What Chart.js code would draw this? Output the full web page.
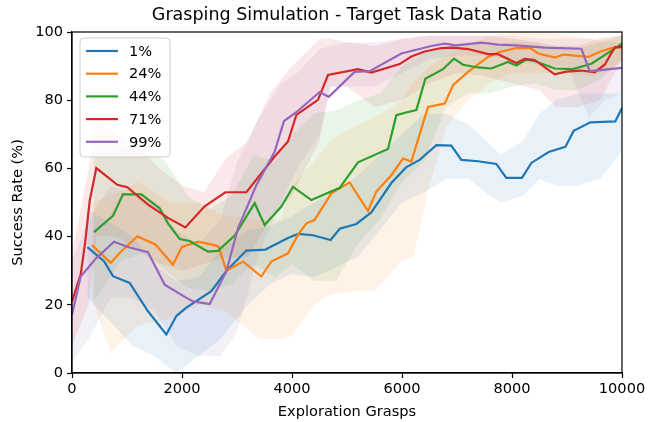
<!DOCTYPE html>
<html>
<head>
<meta charset="utf-8">
<script src="https://cdn.jsdelivr.net/npm/chart.js@4.4.1/dist/chart.umd.min.js"></script>
<style>
  html, body { margin: 0; padding: 0; background: #fff; }
</style>
</head>
<body>
<canvas id="chart" width="657" height="422"></canvas>
<script>
// series labels and colours (matplotlib tab10)
const labels = ['1%', '24%', '44%', '71%', '99%'];
const colors = ['#1f77b4', '#ff7f0e', '#2ca02c', '#d62728', '#9467bd'];
const fills = ['rgba(31,119,180,0.1)', 'rgba(255,127,14,0.1)', 'rgba(44,160,44,0.1)', 'rgba(214,39,40,0.1)', 'rgba(148,103,189,0.1)'];

const xTicks = [0, 2000, 4000, 6000, 8000, 10000];
const yTicks = [0, 20, 40, 60, 80, 100];

// mean curves
const x1 = [279, 582, 745, 1048, 1382, 1715, 1897, 2073, 2533, 2806, 3170, 3515, 3927, 4109, 4382, 4703, 4867, 5170, 5442, 5806, 6073, 6321, 6624, 6897, 7079, 7382, 7715, 7897, 8182, 8352, 8667, 8970, 9121, 9424, 9879, 10000];
const y1 = [36.9, 32.8, 28.4, 26.4, 18.1, 11.3, 16.7, 19.1, 24, 29.9, 35.9, 36.2, 39.6, 40.8, 40.4, 39, 42.3, 43.7, 47.1, 55.7, 60.3, 62.5, 66.8, 66.7, 62.5, 62.1, 61.3, 57.2, 57.2, 61.6, 64.8, 66.3, 71, 73.5, 73.8, 77.7];

const x24 = [364, 703, 897, 1188, 1515, 1836, 2000, 2291, 2594, 2667, 2806, 3109, 3442, 3624, 3927, 4109, 4261, 4412, 4715, 5048, 5382, 5533, 5806, 6018, 6170, 6473, 6776, 6927, 7200, 7564, 7745, 8073, 8327, 8479, 8782, 8933, 9176, 9388, 9600, 9812, 10000];
const y24 = [37.5, 32.3, 35.7, 40.1, 37.7, 31.8, 37, 38.5, 37.5, 37, 30, 32.7, 28.3, 32.7, 35.1, 40.5, 43.9, 44.9, 52.7, 55.9, 47.5, 53.2, 58, 62.9, 62, 78, 79, 84.4, 88.3, 92.7, 94, 95.3, 95.3, 93.7, 92.5, 93.4, 93, 92.7, 94.2, 95.3, 95.5];

const x44 = [400, 745, 927, 1261, 1594, 1745, 1958, 2139, 2473, 2655, 2958, 3321, 3503, 3806, 4018, 4352, 4867, 5200, 5745, 5897, 6073, 6261, 6424, 6745, 6945, 7109, 7382, 7624, 7927, 8079, 8261, 8412, 8776, 9109, 9442, 9867, 10000];
const y44 = [41.3, 46.1, 52.4, 52.4, 48.3, 43.9, 39.3, 38.7, 35.6, 35.8, 40.3, 49.8, 43.4, 48.8, 54.6, 50.7, 54.3, 61.8, 65.7, 75.6, 76.4, 77.1, 86.3, 89.1, 92.2, 90.4, 89.6, 89.3, 91.2, 90.2, 91.9, 91.5, 89.3, 89.1, 90.7, 95.1, 96.6];

const x71 = [0, 158, 242, 321, 442, 824, 1006, 1382, 1745, 2061, 2412, 2788, 3170, 3685, 3927, 4079, 4473, 4655, 5200, 5442, 5958, 6170, 6412, 6715, 6927, 7200, 7564, 7745, 8079, 8230, 8412, 8776, 8988, 9261, 9503, 9685, 9867, 10000];
const y71 = [21, 28.9, 38.6, 50.4, 60.1, 55.2, 54.5, 49.4, 45.5, 42.7, 48.9, 53, 53, 63.5, 67.9, 75.7, 80.1, 87.4, 89.1, 88.1, 90.6, 92.8, 94.3, 95.3, 95.4, 95, 93.5, 93.5, 90.9, 92.1, 91.8, 87.6, 88.4, 88.7, 88.2, 90.4, 95.5, 95.7];

const x99 = [0, 158, 442, 764, 1048, 1382, 1685, 2073, 2200, 2503, 2806, 3018, 3352, 3685, 3855, 4073, 4503, 4667, 5139, 5412, 5988, 6533, 6776, 6988, 7442, 7745, 8073, 8594, 9261, 9412, 10000];
const y99 = [17.1, 28.3, 33.7, 38.5, 36.8, 35.4, 25.9, 22.1, 21, 20.2, 29.8, 42.4, 55.1, 64.9, 73.9, 76.4, 82.4, 81, 88.3, 88.5, 93.7, 95.9, 96.6, 96.1, 96.9, 96.3, 96.1, 95.4, 95.1, 88.5, 89.5];

// shaded spread (lower / upper bounds)
const bx1 = [279, 700, 1100, 1500, 1900, 2300, 2700, 3200, 3600, 4000, 4400, 4800, 5200, 5600, 6000, 6400, 6800, 7200, 7600, 7800, 8200, 8500, 8800, 9200, 9600, 10000];
const lo1 = [22, 15, 8, 5, 0, 5, 10, 20, 26, 29, 28, 31, 34, 42, 50, 53, 57, 57, 52, 50, 52, 57, 55, 55, 57, 65];
const hi1 = [48, 44, 40, 32, 27, 28, 36, 42, 43, 46, 50, 53, 58, 64, 70, 76, 76, 73, 67, 64, 68, 76, 80, 82, 82, 82];

const bx24 = [364, 700, 1200, 1800, 2300, 2800, 3400, 3800, 4000, 4400, 4700, 5100, 5500, 6000, 6200, 6500, 6800, 7200, 7600, 8000, 8500, 9000, 9500, 10000];
const lo24 = [22, 6, 14, 16, 20, 18, 10, 10, 11, 20, 23, 24, 24, 33, 34, 55, 72, 80, 85, 88, 88, 88, 87, 91];
const hi24 = [50, 52, 56, 50, 50, 46, 45, 45, 55, 62, 68, 72, 75, 80, 85, 90, 93, 96, 99, 100, 100, 99, 98, 99];

const bx44 = [400, 900, 1300, 1700, 2100, 2500, 2900, 3300, 3700, 4000, 4400, 4800, 5200, 5600, 6000, 6400, 6800, 7200, 7600, 8000, 8400, 8800, 9200, 9600, 10000];
const lo44 = [21, 33, 35, 30, 25, 24, 26, 32, 28, 32, 27, 27, 38, 45, 56, 62, 78, 82, 82, 84, 85, 83, 83, 86, 92];
const hi44 = [63, 66, 67, 62, 52, 48, 52, 64, 62, 70, 76, 77, 80, 82, 90, 94, 96, 97, 96, 97, 97, 95, 95, 97, 99];

const bx71 = [0, 300, 450, 800, 1200, 1600, 2000, 2400, 2800, 3200, 3600, 4000, 4500, 4700, 5000, 5500, 6000, 6500, 7000, 7500, 8000, 8500, 8800, 9200, 9600, 10000];
const lo71 = [8, 20, 40, 40, 36, 32, 30, 32, 34, 34, 45, 52, 68, 84, 84, 78, 80, 85, 88, 87, 85, 83, 78, 78, 80, 92];
const hi71 = [35, 60, 74, 70, 66, 60, 55, 53, 63, 68, 82, 90, 98, 98, 97, 96, 98, 99, 99, 99, 98, 97, 96, 96, 98, 99];

const bx99 = [0, 300, 700, 1100, 1500, 1900, 2300, 2700, 3000, 3400, 3800, 4100, 4500, 4700, 5000, 5500, 6000, 6500, 7000, 7500, 8000, 8500, 9000, 9400, 9700, 10000];
const lo99 = [3, 10, 22, 22, 18, 8, 5, 5, 12, 35, 50, 60, 70, 84, 84, 84, 88, 92, 93, 93, 92, 90, 90, 75, 80, 82];
const hi99 = [33, 45, 55, 52, 50, 42, 38, 45, 62, 75, 85, 88, 95, 96, 97, 97, 98, 99, 99, 99, 99, 98, 98, 98, 97, 97];

const lineX = [x1, x24, x44, x71, x99];
const lineY = [y1, y24, y44, y71, y99];
const bandX = [bx1, bx24, bx44, bx71, bx99];
const bandLo = [lo1, lo24, lo44, lo71, lo99];
const bandHi = [hi1, hi24, hi44, hi71, hi99];

const FONT = 'DejaVu Sans';
Chart.defaults.font.family = FONT;
Chart.defaults.color = '#000';

const pts = (xs, ys) => xs.map((x, i) => ({ x: x, y: ys[i] }));

const datasets = [];
labels.forEach((lab, i) => {
    datasets.push({
        label: lab,
        data: pts(lineX[i], lineY[i]),
        borderColor: colors[i],
        borderWidth: 2.2,
        pointRadius: 0,
        fill: false,
        tension: 0,
        order: 5 - i
    });
});
labels.forEach((lab, i) => {
    datasets.push({
        label: lab + ' lo',
        data: pts(bandX[i], bandLo[i]),
        borderWidth: 0,
        pointRadius: 0,
        fill: false,
        order: 20
    });
    datasets.push({
        label: lab + ' hi',
        data: pts(bandX[i], bandHi[i]),
        borderWidth: 0,
        pointRadius: 0,
        backgroundColor: fills[i],
        fill: '-1',
        order: 20
    });
});

// title over the axes, frame on all four sides, matplotlib-like legend inside
const extras = {
    id: 'extras',
    afterDatasetsDraw(chart) {
        const { ctx, chartArea: a } = chart;
        ctx.save();
        ctx.strokeStyle = '#000';
        ctx.lineWidth = 1.2;
        ctx.strokeRect(a.left, a.top, a.right - a.left, a.bottom - a.top);
        ctx.restore();
    },
    afterDraw(chart) {
        const { ctx, chartArea: a } = chart;
        ctx.save();
        ctx.fillStyle = '#000';
        ctx.font = '17.5px "' + FONT + '"';
        ctx.textAlign = 'center';
        ctx.textBaseline = 'middle';
        ctx.fillText('Grasping Simulation - Target Task Data Ratio', (a.left + a.right) / 2, 15);

        // legend
        const bx = 80, by = 38, bw = 90, bh = 119, r = 4;
        ctx.beginPath();
        ctx.moveTo(bx + r, by);
        ctx.arcTo(bx + bw, by, bx + bw, by + bh, r);
        ctx.arcTo(bx + bw, by + bh, bx, by + bh, r);
        ctx.arcTo(bx, by + bh, bx, by, r);
        ctx.arcTo(bx, by, bx + bw, by, r);
        ctx.closePath();
        ctx.fillStyle = 'rgba(255,255,255,0.8)';
        ctx.fill();
        ctx.strokeStyle = '#cccccc';
        ctx.lineWidth = 1;
        ctx.stroke();

        ctx.font = '14.6px "' + FONT + '"';
        ctx.textAlign = 'left';
        labels.forEach((lab, i) => {
            const y = 51 + i * 22.7;
            ctx.strokeStyle = colors[i];
            ctx.lineWidth = 2.2;
            ctx.beginPath();
            ctx.moveTo(86, y);
            ctx.lineTo(118, y);
            ctx.stroke();
            ctx.fillStyle = '#000';
            ctx.fillText(lab, 129, y + 1);
        });
        ctx.restore();
    }
};

new Chart(document.getElementById('chart'), {
    type: 'line',
    data: { datasets: datasets },
    options: {
        responsive: false,
        animation: false,
        layout: { padding: { left: 0, top: 32, right: 35, bottom: 0 } },
        plugins: {
            legend: { display: false },
            tooltip: { enabled: false },
            title: { display: false }
        },
        scales: {
            x: {
                type: 'linear',
                min: 0,
                max: 10000,
                afterBuildTicks: s => { s.ticks = xTicks.map(v => ({ value: v })); },
                afterFit: s => { s.height = 49; },
                ticks: { color: '#000', font: { size: 14.6 }, padding: 2, maxRotation: 0, callback: v => String(v) },
                grid: { display: true, drawOnChartArea: false, drawTicks: true, tickLength: 5, tickColor: '#000', tickWidth: 1.2 },
                border: { display: true, color: '#000', width: 1.2 },
                title: { display: true, text: 'Exploration Grasps', color: '#000', font: { size: 14.6 }, padding: { top: 0, bottom: 1 } }
            },
            y: {
                type: 'linear',
                min: 0,
                max: 100,
                afterBuildTicks: s => { s.ticks = yTicks.map(v => ({ value: v })); },
                afterFit: s => { s.width = 72; },
                ticks: { color: '#000', font: { size: 14.6 }, padding: 4, callback: v => String(v) },
                grid: { display: true, drawOnChartArea: false, drawTicks: true, tickLength: 5, tickColor: '#000', tickWidth: 1.2 },
                border: { display: true, color: '#000', width: 1.2 },
                title: { display: true, text: 'Success Rate (%)', color: '#000', font: { size: 14.6 }, padding: { top: 9, bottom: 0 } }
            }
        }
    },
    plugins: [extras]
});
</script>
</body>
</html>
